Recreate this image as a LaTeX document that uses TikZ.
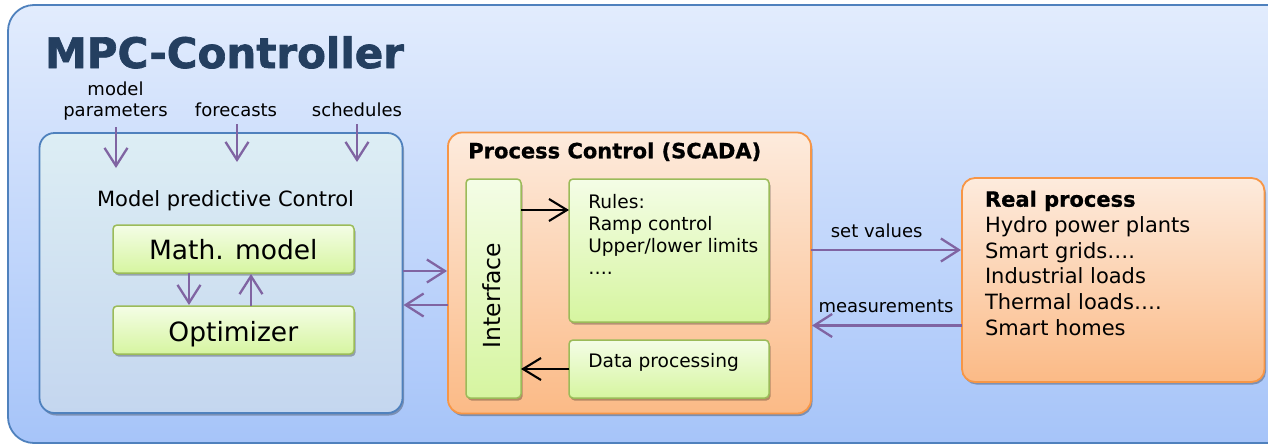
\documentclass[tikz,border=0pt]{standalone}
\usepackage{fontspec}
\setmainfont{DejaVu Sans}
\newfontfamily\heavyfont[FakeBold=1.6]{DejaVu Sans Bold}
\newfontfamily\boldfont[FakeBold=0.8]{DejaVu Sans Bold}
\usetikzlibrary{arrows.meta,shadows}

\definecolor{titleblue}{HTML}{243F60}
\definecolor{frameblue}{HTML}{4F81BD}
\definecolor{outertop}{HTML}{E2ECFD}
\definecolor{outerbot}{HTML}{A6C4F9}
\definecolor{mpctop}{HTML}{DDEEF4}
\definecolor{mpcbot}{HTML}{C4D6EF}
\definecolor{scadaline}{HTML}{F79646}
\definecolor{scadatop}{HTML}{FDEBDD}
\definecolor{scadabot}{HTML}{FBBA86}
\definecolor{greenline}{HTML}{9BBB59}
\definecolor{greentop}{HTML}{F4FDE6}
\definecolor{greenbot}{HTML}{D6F5A0}
\definecolor{flowpurple}{HTML}{8064A2}

\newcommand\fsz[2]{\fontsize{#1}{#2}\selectfont}

\begin{document}
\begin{tikzpicture}[x=1pt,y=-1pt,
  shadowed/.style={drop shadow={shadow xshift=1.5pt,shadow yshift=-2.5pt,opacity=0.28,fill=black}},
  panel/.style={rectangle,inner sep=0pt,outer sep=0pt,line width=1.8pt},
  outerpanel/.style={panel,draw=frameblue,top color=outertop,bottom color=outerbot,rounded corners=26pt},
  mpcpanel/.style={panel,shadowed,draw=frameblue,top color=mpctop,bottom color=mpcbot,rounded corners=15pt},
  orangepanel/.style={panel,shadowed,draw=scadaline,top color=scadatop,bottom color=scadabot,rounded corners=14pt},
  greenbox/.style={panel,shadowed,line width=1.5pt,draw=greenline,top color=greentop,bottom color=greenbot,rounded corners=4pt},
  txt/.style={inner sep=0pt,outer sep=0pt,text=black},
  parr/.style={draw=flowpurple,line width=2.3pt,-{Straight Barb[length=18pt,width=23pt,line width=2.3pt]}},
  karr/.style={draw=black,line width=2.1pt,-{Straight Barb[length=18pt,width=22pt,line width=2.1pt]}},
]
\useasboundingbox (0,0) rectangle (1268,445);

% background frame of the controller
\node[outerpanel,minimum width=1290pt,minimum height=438pt] (outer) at (653,224) {};
\node[txt,anchor=base west,text=titleblue,font=\fsz{42}{50}\heavyfont] (title) at (45,68) {MPC-Controller};

% inputs of the MPC block
\node[txt,anchor=base,font=\fsz{18}{22}] (lblmodel) at (115.5,95.5) {model};
\node[txt,anchor=base,font=\fsz{18}{22}] (lblparam) at (115.5,116.7) {parameters};
\node[txt,anchor=base,font=\fsz{18}{22}] (lblfore) at (236,116.7) {forecasts};
\node[txt,anchor=base,font=\fsz{18}{22}] (lblsched) at (357,116.7) {schedules};

% MPC block
\node[mpcpanel,minimum width=363pt,minimum height=280pt] (mpc) at (221,273) {};
\node[txt,anchor=base,font=\fsz{21}{25}] (mpclabel) at (225.5,206) {Model predictive Control};
\node[greenbox,minimum width=241pt,minimum height=48pt] (math) at (233.5,249) {};
\node[txt,anchor=base,font=\fsz{26.5}{30}] (mathlabel) at (233.3,259.3) {Math. model};
\node[greenbox,minimum width=241pt,minimum height=48pt] (opt) at (233.5,330) {};
\node[txt,anchor=base,font=\fsz{26.5}{30}] (optlabel) at (233.3,341.7) {Optimizer};

\coordinate (inA) at (116,127);
\coordinate (inB) at (237,124);
\coordinate (inC) at (357,124);
\draw[parr] (inA) -- (116,168);
\draw[parr] (inB) -- (237,162);
\draw[parr] (inC) -- (357,162);

\draw[parr] (math.south -| 189,0) -- ([yshift=1pt]opt.north -| 189,0);
\draw[parr] (opt.north -| 251,0) -- ([yshift=-1pt]math.south -| 251,0);

% process control block
\node[orangepanel,minimum width=363pt,minimum height=281pt] (scada) at (629.5,273) {};
\node[txt,anchor=base west,font=\fsz{21}{25}\boldfont] (scadalabel) at (468.3,158.3) {Process Control (SCADA)};
\node[greenbox,minimum width=55pt,minimum height=219pt] (iface) at (493.5,288.5) {};
\node[txt,rotate=90,anchor=base,font=\fsz{23.5}{28}] (ifacelabel) at (500,295.5) {Interface};
\node[greenbox,minimum width=200pt,minimum height=143pt] (rules) at (669,250.5) {};
\node[txt,anchor=base west,font=\fsz{18.6}{22}] (rules1) at (588.3,208.3) {Rules:};
\node[txt,anchor=base west,font=\fsz{18.6}{22}] (rules2) at (588.3,230.3) {Ramp control};
\node[txt,anchor=base west,font=\fsz{18.6}{22}] (rules3) at (588.3,252.3) {Upper/lower limits};
\node[txt,anchor=base west,font=\fsz{18.6}{22}] (rules4) at (588.3,274.5) {….};
\node[greenbox,minimum width=200pt,minimum height=58pt] (data) at (669,369) {};
\node[txt,anchor=base west,font=\fsz{18.6}{22}] (datalabel) at (588.3,367.3) {Data processing};

\draw[karr] (iface.east |- 0,210) -- (rules.west |- 0,210);
\draw[karr] (data.west |- 0,369) -- (iface.east |- 0,369);

% exchange between MPC and process control
\draw[parr] (mpc.east |- 0,271) -- ([xshift=-1pt]scada.west |- 0,271);
\draw[parr] (scada.west |- 0,305) -- ([xshift=1pt]mpc.east |- 0,305);

% real process
\node[orangepanel,rounded corners=13pt,minimum width=302.5pt,minimum height=204pt] (real) at (1113.25,280) {};
\node[txt,anchor=base west,font=\fsz{21}{25}\boldfont] (real0) at (985,206.7) {Real process};
\node[txt,anchor=base west,font=\fsz{21}{25}] (real1) at (985,232.5) {Hydro power plants};
\node[txt,anchor=base west,font=\fsz{21}{25}] (real2) at (985,258.2) {Smart grids….};
\node[txt,anchor=base west,font=\fsz{21}{25}] (real3) at (985,283.9) {Industrial loads};
\node[txt,anchor=base west,font=\fsz{21}{25}] (real4) at (985,309.5) {Thermal loads….};
\node[txt,anchor=base west,font=\fsz{21}{25}] (real5) at (985,335.2) {Smart homes};

\draw[parr] (scada.east |- 0,250) -- ([xshift=-1pt]real.west |- 0,250);
\draw[parr] (real.west |- 0,325.5) -- ([xshift=1pt]scada.east |- 0,325.5);
\node[txt,anchor=base,font=\fsz{18}{22}] (lblset) at (876.7,237.3) {set values};
\node[txt,anchor=base,font=\fsz{18}{22}] (lblmeas) at (886,312.7) {measurements};
\end{tikzpicture}
\end{document}
